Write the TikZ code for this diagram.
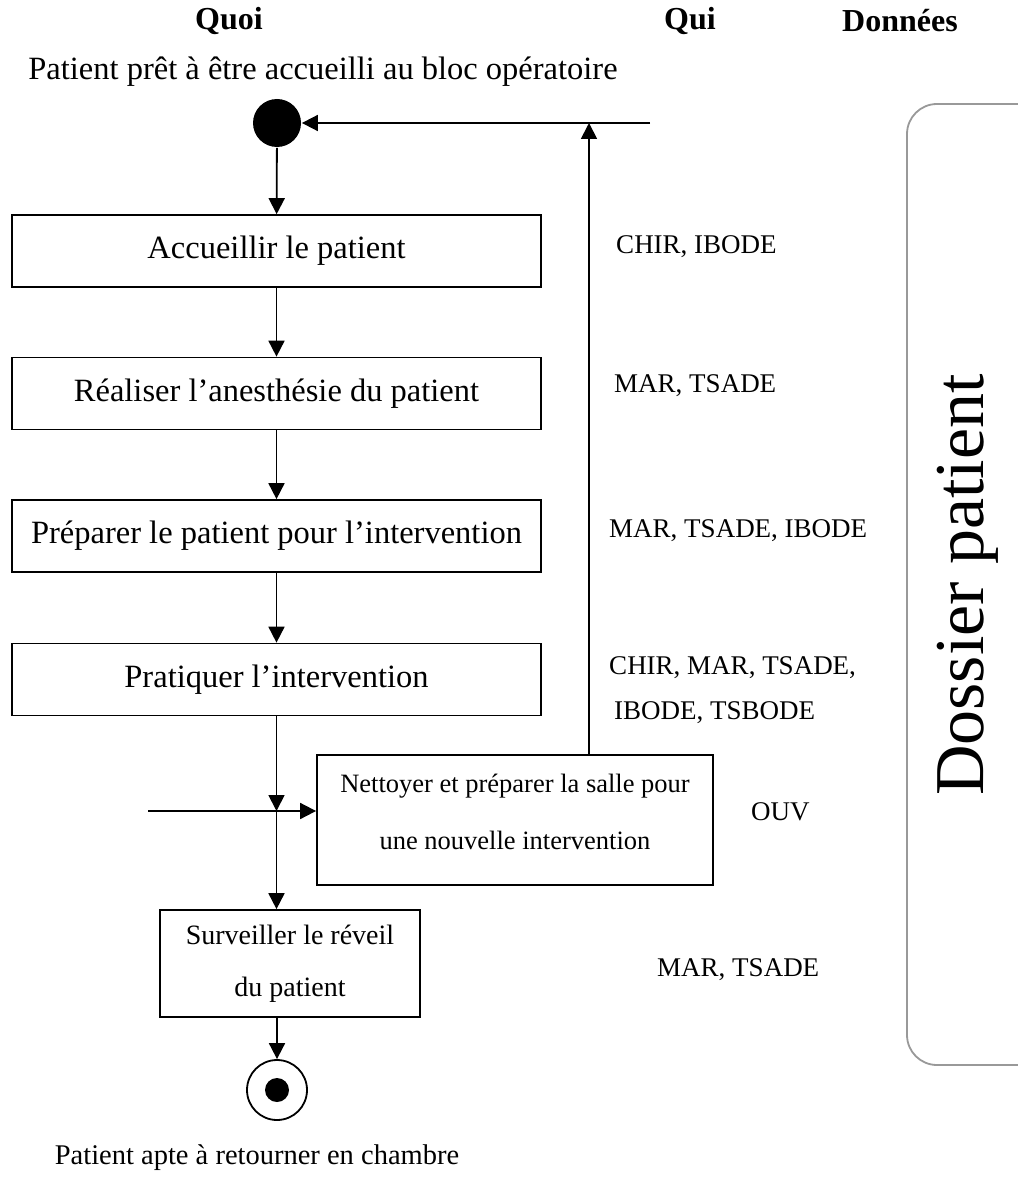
\documentclass[tikz,border=0pt]{standalone}
\usepackage{fontspec}
\setmainfont{Liberation Serif}
\usetikzlibrary{arrows.meta}
\newcommand{\fs}[1]{\fontsize{#1}{#1}\selectfont}
\begin{document}
\begin{tikzpicture}[x=1pt,y=-1pt,
  line width=1.8pt,
  arr/.style={-{Triangle[length=16pt,width=16pt]}},
  actbox/.style={draw, rectangle, line width=1.7pt, minimum width=529pt, minimum height=72pt, inner sep=0pt, font=\fs{32.5}},
  head/.style={font=\bfseries\fs{32}},
  qui/.style={font=\fs{27}, anchor=west},
  capt/.style={font=\fs{32.5}}
]
\useasboundingbox (0,0) rectangle (1017,1182);
\fill[white] (0,0) rectangle (1017,1182);

% headers
\node[head] (hquoi) at (229,21) {Quoi};
\node[head] (hqui) at (690,21) {Qui};
\node[head] (hdon) at (900,21) {Données};

% start
\node[capt] (tstart) at (323,72) {Patient prêt à être accueilli au bloc opératoire};
\node[circle, fill=black, minimum size=48pt, inner sep=0pt] (start) at (277,123) {};
\coordinate (topin) at (650,123);
\coordinate (join) at (589,123);

% activities
\node[actbox] (b1) at (276.5,251) {Accueillir le patient};
\node[actbox] (b2) at (276.5,393.5) {Réaliser l’anesthésie du patient};
\node[actbox] (b3) at (276.5,536) {Préparer le patient pour l’intervention};
\node[actbox] (b4) at (276.5,679.5) {Pratiquer l’intervention};
\node[draw, rectangle, line width=1.8pt, minimum width=396pt, minimum height=130pt, inner sep=0pt,
      align=center, font=\fontsize{26.5}{57}\selectfont] (clean) at (515,820)
      {Nettoyer et préparer la salle pour\\une nouvelle intervention\\[-41pt]\mbox{}};
\node[draw, rectangle, line width=1.7pt, minimum width=260pt, minimum height=107pt, inner sep=0pt,
      align=center, font=\fontsize{28}{52}\selectfont] (b5) at (290,963.5)
      {Surveiller le réveil\\du patient};

% end
\node[circle, draw, line width=1.8pt, minimum size=60pt, inner sep=0pt] (end) at (277,1090) {};
\node[circle, fill=black, minimum size=24pt, inner sep=0pt] (endin) at (end.center) {};
\node[font=\fs{28.5}] (tend) at (257,1158) {Patient apte à retourner en chambre};

% connectors
\draw[arr] (topin) -- (start);
\draw[arr] (clean.north -| join) -- (join);
\draw[arr] (start) -- (b1);
\draw[arr] (b1) -- (b2);
\draw[arr] (b2) -- (b3);
\draw[arr] (b3) -- (b4);
\coordinate (inL) at (148,811);
\coordinate (cross) at (b4.south |- inL);
\draw[arr] (b4.south) -- (cross);
\draw[arr] (cross) -- (b5.north -| cross);
\draw[arr] (inL) -- (inL -| clean.west);
\draw[arr] (b5.south -| end) -- (end);

% qui labels
\node[qui] (q1) at (612,247) {CHIR, IBODE};
\node[qui] (q2) at (610,386) {MAR, TSADE};
\node[qui] (q3) at (605,531) {MAR, TSADE, IBODE};
\node[qui] (q4) at (605,668) {CHIR, MAR, TSADE,};
\node[qui] (q5) at (610,713) {IBODE, TSBODE};
\node[qui] (q6) at (747,812) {OUV};
\node[qui] (q7) at (653,970) {MAR, TSADE};

% donnees
\draw[gray!80, line width=1.8pt, rounded corners=30pt] (1040,104) -- (907,104) -- (907,1065) -- (1040,1065);
\node[font=\fs{70}, rotate=90] (dossier) at (968,585) {Dossier patient};
\end{tikzpicture}
\end{document}
